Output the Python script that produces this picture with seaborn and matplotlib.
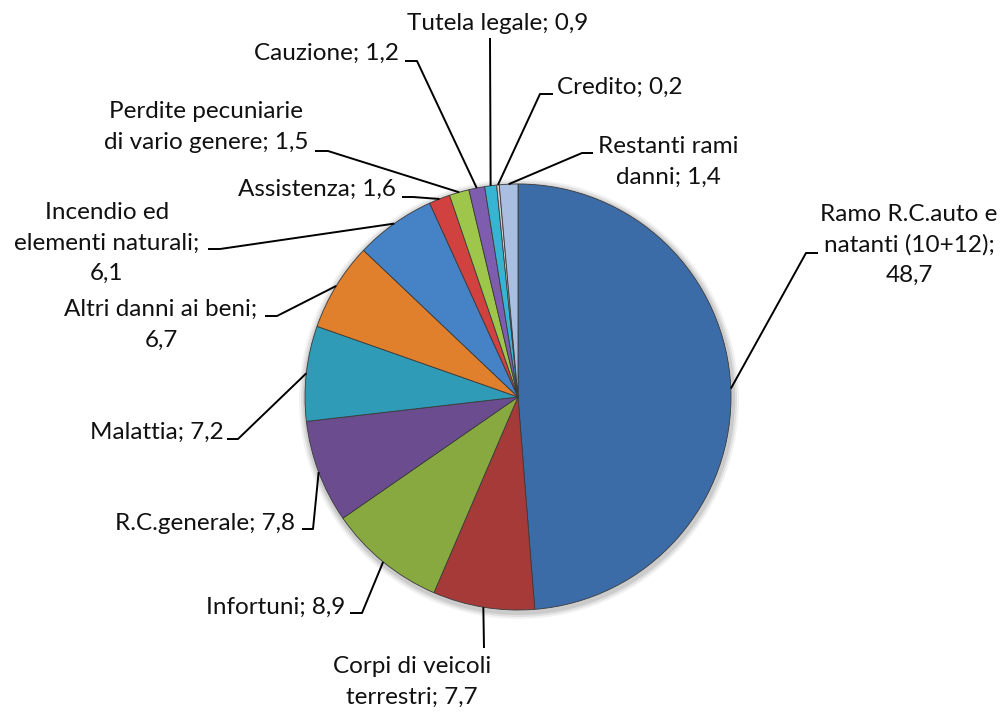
import numpy as np
import matplotlib.pyplot as plt
import seaborn as sns

# data (clockwise from 12 o'clock)
categories = ["Ramo R.C.auto e\nnatanti (10+12)", "Corpi di veicoli\nterrestri", "Infortuni",
              "R.C.generale", "Malattia", "Altri danni ai beni", "Incendio ed\nelementi naturali",
              "Assistenza", "Perdite pecuniarie\ndi vario genere", "Cauzione", "Tutela legale",
              "Credito", "Restanti rami\ndanni"]
values = [48.7, 7.7, 8.9, 7.8, 7.2, 6.7, 6.1, 1.6, 1.5, 1.2, 0.9, 0.2, 1.4]
seps = [";\n", "; ", "; ", "; ", "; ", ";\n", ";\n", "; ", "; ", "; ", "; ", "; ", "; "]

colors = ["#3B6CA8", "#A63A38", "#87A940", "#6B4D8F", "#2F9BB6", "#E0802D", "#4683C6",
          "#D0413F", "#9DC64B", "#7E5DAE", "#36B4D1", "#CFCFCF", "#A9BEE0"]

sns.set_theme(style="white")
plt.rcParams['font.family'] = ['Lato', 'DejaVu Sans']

W, H = 1003, 713
fig = plt.figure(figsize=(W / 100, H / 100), dpi=100)
ax = fig.add_axes([0, 0, 1, 1])

def P(x, y):
    # pixel coords (top-left origin) -> data coords
    return x, H - y

cx, cy = P(518, 397)
R = 213

# soft shadow behind the pie
for k, a in zip([7, 5, 3], [0.05, 0.07, 0.09]):
    ax.add_patch(plt.Circle((cx + 1, cy - 2), R + k, color="black", alpha=a, lw=0, zorder=0))

wedges, _ = ax.pie(values, colors=sns.color_palette(colors), startangle=90, counterclock=False,
                   center=(cx, cy), radius=R,
                   wedgeprops=dict(edgecolor="#3a3a3a", linewidth=0.6, zorder=1))
ax.set_xlim(0, W)
ax.set_ylim(0, H)
ax.axis('off')

# label placement in pixels: text pos, ha, knee, stub end
layout = [
    ((909, 245), "center", (806, 253), (818, 253)),
    ((412, 682), "center", (484, 648), None),
    ((345, 607), "right", (362, 613), (350, 613)),
    ((295, 523), "right", (313, 529), (302, 529)),
    ((224, 432), "right", (238, 439), (227, 439)),
    ((161, 325), "center", (277, 316), (265, 316)),
    ((107, 243), "center", (220, 249), (208, 249)),
    ((396, 189), "right", (413, 197), (402, 197)),
    ((206, 127), "center", (328, 151), (315, 151)),
    ((399, 53), "right", (417, 61), (405, 61)),
    ((498, 23), "center", (490, 38), None),
    ((557, 87), "left", (540, 94), (553, 94)),
    ((668, 162), "center", (582, 153), (593, 153)),
]

for w, name, v, sep, (tp, ha, knee, end) in zip(wedges, categories, values, seps, layout):
    ang = np.deg2rad((w.theta1 + w.theta2) / 2)
    ax_ = cx + R * np.cos(ang)
    ay_ = cy + R * np.sin(ang)
    pts = [(ax_, ay_), P(*knee)]
    if end is not None:
        pts.append(P(*end))
    xs, ys = zip(*pts)
    ax.plot(xs, ys, color="black", lw=1.4, solid_capstyle="butt", zorder=3)
    txt = name + sep + f"{v:.1f}".replace(".", ",")
    ax.text(*P(*tp), txt, ha=ha, va="center", multialignment="center",
            fontsize=17.5, color="#111111", linespacing=1.55)

fig.savefig("out.png", dpi=100, facecolor="white")
